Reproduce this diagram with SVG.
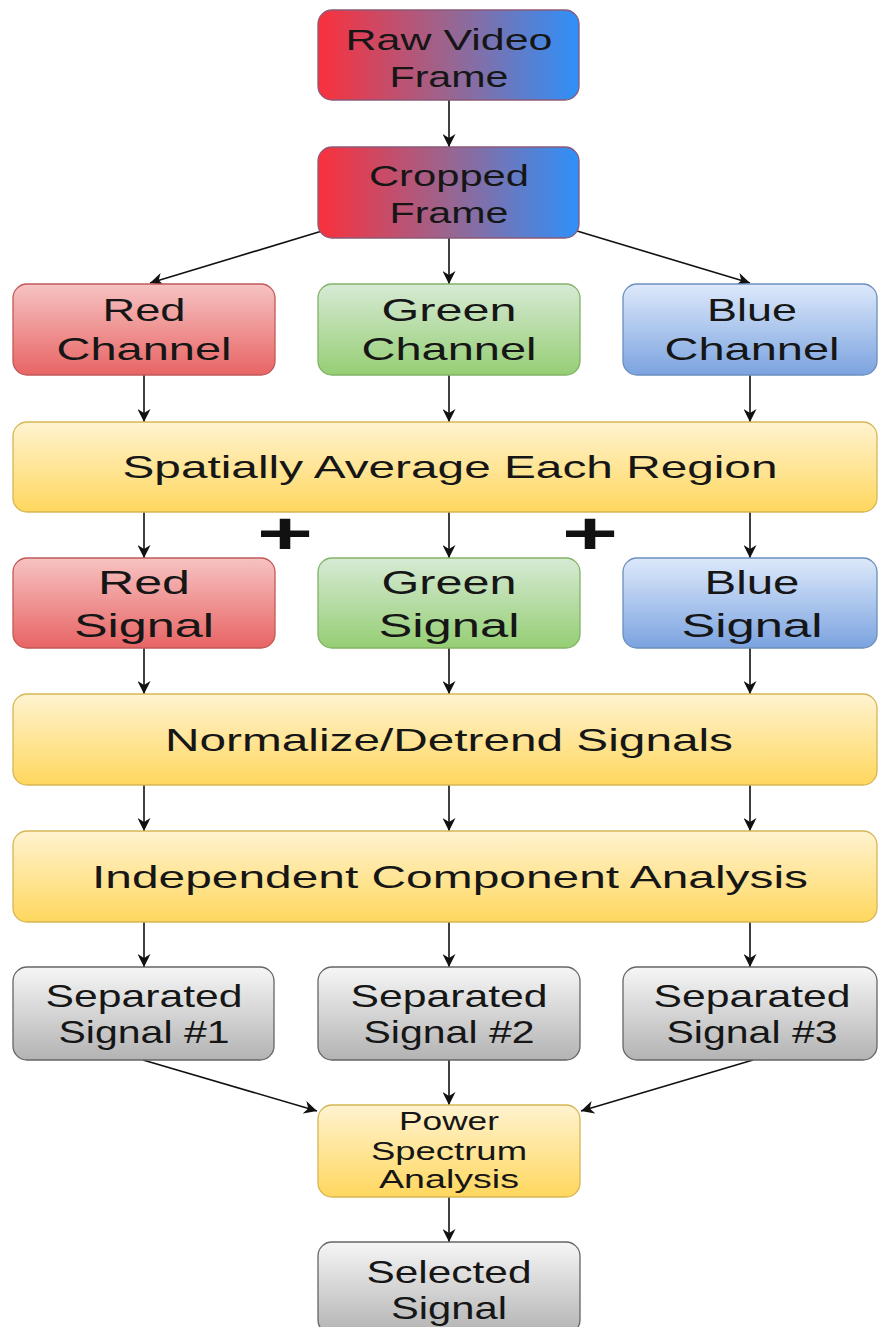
<svg xmlns="http://www.w3.org/2000/svg" width="878" height="1327" viewBox="0 0 878 1327">
  <defs>
    <linearGradient id="gRB" x1="0" y1="0" x2="1" y2="0">
      <stop offset="0" stop-color="#fa303c"/>
      <stop offset="0.5" stop-color="#9a6590"/>
      <stop offset="1" stop-color="#2e90fa"/>
    </linearGradient>
    <linearGradient id="gRed" x1="0" y1="0" x2="0" y2="1">
      <stop offset="0" stop-color="#f6c3c2"/>
      <stop offset="1" stop-color="#e86464"/>
    </linearGradient>
    <linearGradient id="gGreen" x1="0" y1="0" x2="0" y2="1">
      <stop offset="0" stop-color="#d7ead5"/>
      <stop offset="1" stop-color="#95ce74"/>
    </linearGradient>
    <linearGradient id="gBlue" x1="0" y1="0" x2="0" y2="1">
      <stop offset="0" stop-color="#dde9fb"/>
      <stop offset="1" stop-color="#7ba3df"/>
    </linearGradient>
    <linearGradient id="gYellow" x1="0" y1="0" x2="0" y2="1">
      <stop offset="0" stop-color="#fff3d0"/>
      <stop offset="1" stop-color="#ffd75e"/>
    </linearGradient>
    <linearGradient id="gGray" x1="0" y1="0" x2="0" y2="1">
      <stop offset="0" stop-color="#f6f6f6"/>
      <stop offset="1" stop-color="#b3b3b3"/>
    </linearGradient>
    <marker id="arrow" markerWidth="13" markerHeight="13" refX="10" refY="5" orient="auto" markerUnits="userSpaceOnUse" viewBox="0 0 10 10">
      <path d="M0,0 L10,5 L0,10 L3,5 z" fill="#111"/>
    </marker>
  </defs>
  <style>
    .box { stroke-width: 1.3; }
    .rb { fill: url(#gRB); stroke: #8a5a78; }
    .red { fill: url(#gRed); stroke: #c05a58; }
    .green { fill: url(#gGreen); stroke: #82b366; }
    .blue { fill: url(#gBlue); stroke: #6c8ebf; }
    .yellow { fill: url(#gYellow); stroke: #d6b656; }
    .gray { fill: url(#gGray); stroke: #666666; }
    text { font-family: "Liberation Sans", Arial, sans-serif; fill: #161616; text-anchor: middle; }
    .t28 { font-size: 30px; }
    .t30 { font-size: 32px; }
    .t31 { font-size: 33px; }
    .t25 { font-size: 26px; }
    .plus { font-size: 60px; font-weight: bold; fill: #111; }
    .edge { stroke: #111; stroke-width: 1.6; fill: none; marker-end: url(#arrow); }
  </style>

  <rect width="878" height="1327" fill="#ffffff"/>

  <!-- connectors -->
  <g id="connectors">
    <line class="edge" x1="449" y1="100" x2="449" y2="147"/>
    <line class="edge" x1="322" y1="231" x2="150" y2="283"/>
    <line class="edge" x1="449" y1="238" x2="449" y2="284"/>
    <line class="edge" x1="577" y1="231" x2="750" y2="283"/>
    <line class="edge" x1="144" y1="375" x2="144" y2="422"/>
    <line class="edge" x1="449" y1="375" x2="449" y2="422"/>
    <line class="edge" x1="750" y1="375" x2="750" y2="422"/>
    <line class="edge" x1="144" y1="512" x2="144" y2="558"/>
    <line class="edge" x1="449" y1="512" x2="449" y2="558"/>
    <line class="edge" x1="750" y1="512" x2="750" y2="558"/>
    <line class="edge" x1="144" y1="648" x2="144" y2="694"/>
    <line class="edge" x1="449" y1="648" x2="449" y2="694"/>
    <line class="edge" x1="750" y1="648" x2="750" y2="694"/>
    <line class="edge" x1="144" y1="785" x2="144" y2="831"/>
    <line class="edge" x1="449" y1="785" x2="449" y2="831"/>
    <line class="edge" x1="750" y1="785" x2="750" y2="831"/>
    <line class="edge" x1="144" y1="922" x2="144" y2="967"/>
    <line class="edge" x1="449" y1="922" x2="449" y2="967"/>
    <line class="edge" x1="750" y1="922" x2="750" y2="967"/>
    <line class="edge" x1="143" y1="1060" x2="317" y2="1111"/>
    <line class="edge" x1="449" y1="1060" x2="449" y2="1105"/>
    <line class="edge" x1="753" y1="1060" x2="581" y2="1111"/>
    <line class="edge" x1="449" y1="1197" x2="449" y2="1242"/>
  </g>

  <!-- plus signs between the averaged signals -->
  <text class="plus" transform="translate(285,554) scale(1.6,1)">+</text>
  <text class="plus" transform="translate(590,554) scale(1.6,1)">+</text>

  <g id="raw-video-frame">
    <rect class="box rb" x="318" y="10" width="261" height="90" rx="14"/>
    <text class="t28" x="449" y="50" textLength="207" lengthAdjust="spacingAndGlyphs">Raw Video</text>
    <text class="t28" x="449" y="87" textLength="119" lengthAdjust="spacingAndGlyphs">Frame</text>
  </g>

  <g id="cropped-frame">
    <rect class="box rb" x="318" y="147" width="261" height="91" rx="14"/>
    <text class="t28" x="449" y="186" textLength="160" lengthAdjust="spacingAndGlyphs">Cropped</text>
    <text class="t28" x="449" y="223" textLength="119" lengthAdjust="spacingAndGlyphs">Frame</text>
  </g>

  <g id="red-channel">
    <rect class="box red" x="13" y="284" width="262" height="91" rx="14"/>
    <text class="t30" x="144" y="321" textLength="83" lengthAdjust="spacingAndGlyphs">Red</text>
    <text class="t30" x="144" y="360" textLength="175" lengthAdjust="spacingAndGlyphs">Channel</text>
  </g>

  <g id="green-channel">
    <rect class="box green" x="318" y="284" width="262" height="91" rx="14"/>
    <text class="t30" x="449" y="321" textLength="135" lengthAdjust="spacingAndGlyphs">Green</text>
    <text class="t30" x="449" y="360" textLength="175" lengthAdjust="spacingAndGlyphs">Channel</text>
  </g>

  <g id="blue-channel">
    <rect class="box blue" x="623" y="284" width="254" height="91" rx="14"/>
    <text class="t30" x="752" y="321" textLength="90" lengthAdjust="spacingAndGlyphs">Blue</text>
    <text class="t30" x="752" y="360" textLength="175" lengthAdjust="spacingAndGlyphs">Channel</text>
  </g>

  <g id="spatial-average">
    <rect class="box yellow" x="13" y="422" width="864" height="90" rx="14"/>
    <text class="t30" x="450" y="478" textLength="655" lengthAdjust="spacingAndGlyphs">Spatially Average Each Region</text>
  </g>

  <g id="red-signal">
    <rect class="box red" x="13" y="558" width="262" height="90" rx="14"/>
    <text class="t31" x="144" y="594" textLength="92" lengthAdjust="spacingAndGlyphs">Red</text>
    <text class="t31" x="144" y="637" textLength="140" lengthAdjust="spacingAndGlyphs">Signal</text>
  </g>

  <g id="green-signal">
    <rect class="box green" x="318" y="558" width="262" height="90" rx="14"/>
    <text class="t31" x="449" y="594" textLength="135" lengthAdjust="spacingAndGlyphs">Green</text>
    <text class="t31" x="449" y="637" textLength="141" lengthAdjust="spacingAndGlyphs">Signal</text>
  </g>

  <g id="blue-signal">
    <rect class="box blue" x="623" y="558" width="254" height="90" rx="14"/>
    <text class="t31" x="752" y="594" textLength="95" lengthAdjust="spacingAndGlyphs">Blue</text>
    <text class="t31" x="752" y="637" textLength="141" lengthAdjust="spacingAndGlyphs">Signal</text>
  </g>

  <g id="normalize-detrend">
    <rect class="box yellow" x="13" y="694" width="864" height="91" rx="14"/>
    <text class="t30" x="449" y="751" textLength="568" lengthAdjust="spacingAndGlyphs">Normalize/Detrend Signals</text>
  </g>

  <g id="ica">
    <rect class="box yellow" x="13" y="831" width="864" height="91" rx="14"/>
    <text class="t30" x="450" y="888" textLength="716" lengthAdjust="spacingAndGlyphs">Independent Component Analysis</text>
  </g>

  <g id="separated-1">
    <rect class="box gray" x="13" y="967" width="261" height="93" rx="14"/>
    <text class="t30" x="144" y="1007" textLength="197" lengthAdjust="spacingAndGlyphs">Separated</text>
    <text class="t30" x="144" y="1043" textLength="171" lengthAdjust="spacingAndGlyphs">Signal #1</text>
  </g>

  <g id="separated-2">
    <rect class="box gray" x="318" y="967" width="262" height="93" rx="14"/>
    <text class="t30" x="449" y="1007" textLength="197" lengthAdjust="spacingAndGlyphs">Separated</text>
    <text class="t30" x="449" y="1043" textLength="171" lengthAdjust="spacingAndGlyphs">Signal #2</text>
  </g>

  <g id="separated-3">
    <rect class="box gray" x="623" y="967" width="254" height="93" rx="14"/>
    <text class="t30" x="752" y="1007" textLength="197" lengthAdjust="spacingAndGlyphs">Separated</text>
    <text class="t30" x="752" y="1043" textLength="171" lengthAdjust="spacingAndGlyphs">Signal #3</text>
  </g>

  <g id="power-spectrum">
    <rect class="box yellow" x="318" y="1105" width="262" height="92" rx="14"/>
    <text class="t25" x="449" y="1130" textLength="100" lengthAdjust="spacingAndGlyphs">Power</text>
    <text class="t25" x="449" y="1160" textLength="156" lengthAdjust="spacingAndGlyphs">Spectrum</text>
    <text class="t25" x="449" y="1188" textLength="140" lengthAdjust="spacingAndGlyphs">Analysis</text>
  </g>

  <g id="selected-signal">
    <rect class="box gray" x="318" y="1242" width="262" height="92" rx="14"/>
    <text class="t30" x="449" y="1283" textLength="165" lengthAdjust="spacingAndGlyphs">Selected</text>
    <text class="t30" x="449" y="1319" textLength="116" lengthAdjust="spacingAndGlyphs">Signal</text>
  </g>
</svg>
